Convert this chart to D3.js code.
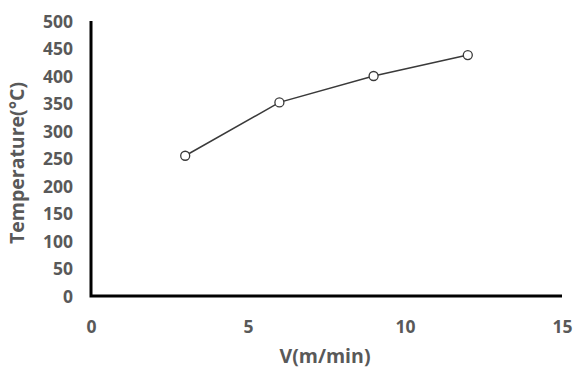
<!DOCTYPE html>
<html>
<head>
<meta charset="utf-8">
<script src="https://cdn.jsdelivr.net/npm/d3@7"></script>
<style>
  html, body { margin: 0; padding: 0; background: #fff; }
  svg { display: block; }
  .tick text { font-family: "Open Sans", "DejaVu Sans", sans-serif; font-weight: 700; fill: #595959; }
  .title { font-family: "Open Sans", "DejaVu Sans", sans-serif; font-weight: 700; fill: #595959; }
</style>
</head>
<body>
<svg id="chart" width="576" height="374"></svg>
<script>
// Cutting speed vs. measured temperature
const speeds = [3, 6, 9, 12];
const temperatures = [255, 352, 400, 438];
const xTicks = [0, 5, 10, 15];
const yTicks = [0, 50, 100, 150, 200, 250, 300, 350, 400, 450, 500];

const svg = d3.select("#chart");
const plot = { left: 91, right: 562, top: 21, bottom: 296 };

const x = d3.scaleLinear().domain([0, 15]).range([plot.left, plot.right]);
const y = d3.scaleLinear().domain([0, 500]).range([plot.bottom, plot.top]);

// y axis: labels only, plus a heavy spine
const yAxis = svg.append("g")
  .attr("transform", `translate(${plot.left},0)`)
  .call(d3.axisLeft(y).tickValues(yTicks).tickSize(0).tickPadding(18));
yAxis.select(".domain").remove();
yAxis.selectAll("text").style("font-size", "17.5px").attr("dy", "0.36em");

const xAxis = svg.append("g")
  .attr("transform", `translate(0,${plot.bottom})`)
  .call(d3.axisBottom(x).tickValues(xTicks).tickSize(0).tickPadding(25));
xAxis.select(".domain").remove();
xAxis.selectAll("text").style("font-size", "17.5px");

svg.append("path")
  .attr("d", `M${plot.left},${plot.top}V${plot.bottom}H${plot.right}`)
  .attr("fill", "none")
  .attr("stroke", "#000")
  .attr("stroke-width", 3);

// axis titles
svg.append("text").attr("class", "title")
  .attr("x", 325)
  .attr("y", 363)
  .attr("text-anchor", "middle")
  .style("font-size", "19.5px")
  .text("V(m/min)");

svg.append("text").attr("class", "title")
  .attr("transform", "translate(24,163) rotate(-90)")
  .attr("text-anchor", "middle")
  .style("font-size", "19.5px")
  .text("Temperature(°C)");

// series
const pts = speeds.map((s, i) => [s, temperatures[i]]);
svg.append("path")
  .datum(pts)
  .attr("fill", "none")
  .attr("stroke", "#3a3a3a")
  .attr("stroke-width", 1.5)
  .attr("d", d3.line().x(d => x(d[0])).y(d => y(d[1])));

svg.selectAll("circle.pt")
  .data(pts)
  .join("circle")
  .attr("class", "pt")
  .attr("cx", d => x(d[0]))
  .attr("cy", d => y(d[1]))
  .attr("r", 4.5)
  .attr("fill", "#fff")
  .attr("stroke", "#3a3a3a")
  .attr("stroke-width", 1.3);
</script>
</body>
</html>
